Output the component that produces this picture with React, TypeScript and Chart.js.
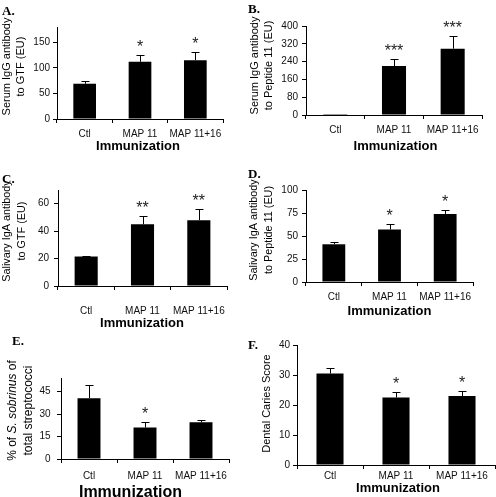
import React, { useEffect, useRef } from 'react';
import { Chart, registerables } from 'chart.js';
Chart.register(...registerables);

// ---------- data ----------
const categories = ['Ctl', 'MAP 11', 'MAP 11+16'];

const serumIgGGTF = [69, 112, 115];
const serumIgGGTFErr = [6, 13, 17];
const serumIgGGTFStars = ['', '*', '*'];
const serumIgGGTFTicks = [0, 50, 100, 150];
const serumIgGGTFMax = 180;

const serumIgGPep11 = [4, 220, 298];
const serumIgGPep11Err = [0, 30, 58];
const serumIgGPep11Stars = ['', '***', '***'];
const serumIgGPep11Ticks = [0, 80, 160, 240, 320, 400];
const serumIgGPep11Max = 400;

const salivaryIgAGTF = [21.5, 45, 48];
const salivaryIgAGTFErr = [0.5, 6, 8];
const salivaryIgAGTFStars = ['', '**', '**'];
const salivaryIgAGTFTicks = [0, 20, 40, 60];
const salivaryIgAGTFMax = 70;

const salivaryIgAPep11 = [41, 57, 74];
const salivaryIgAPep11Err = [2, 6, 4];
const salivaryIgAPep11Stars = ['', '*', '*'];
const salivaryIgAPep11Ticks = [0, 25, 50, 75, 100];
const salivaryIgAPep11Max = 100;

const sobrinusPct = [40.5, 21, 24.5];
const sobrinusPctErr = [9, 4, 1.5];
const sobrinusPctStars = ['', '*', ''];
const sobrinusPctTicks = [0, 15, 30, 45];
const sobrinusPctMax = 54;

const cariesScore = [30.5, 22.5, 23];
const cariesScoreErr = [2, 1.8, 1.7];
const cariesScoreStars = ['', '*', '*'];
const cariesScoreTicks = [0, 10, 20, 30, 40];
const cariesScoreMax = 40;

const xTitle = 'Immunization';

// ---------- layout ----------
type Run = { t: string; it?: boolean };
type Panel = {
  letter: string;
  values: number[];
  errors: number[];
  stars: string[];
  ticks: number[];
  max: number;
  yTitle: Run[][];
  left: number; top: number; w: number; h: number;
  area: { l: number; t: number; r: number; b: number };
  yTitleX: number[]; yTitleCy: number; yTitleSize: number;
  xTitleCx: number; xTitleCy: number; xTitleSize: number;
  letterX: number; letterY: number;
  yPad: number; xPad: number;
};

const panels: Panel[] = [
  {
    letter: 'A.', values: serumIgGGTF, errors: serumIgGGTFErr, stars: serumIgGGTFStars,
    ticks: serumIgGGTFTicks, max: serumIgGGTFMax,
    yTitle: [[{ t: 'Serum IgG antibody' }], [{ t: 'to GTF (EU)' }]],
    left: 0, top: 0, w: 248, h: 165, area: { l: 57, t: 27, r: 223, b: 119 },
    yTitleX: [9.5, 23.5], yTitleCy: 66.5, yTitleSize: 11,
    xTitleCx: 138, xTitleCy: 146, xTitleSize: 13, letterX: 2, letterY: 15, yPad: 3, xPad: 5,
  },
  {
    letter: 'B.', values: serumIgGPep11, errors: serumIgGPep11Err, stars: serumIgGPep11Stars,
    ticks: serumIgGPep11Ticks, max: serumIgGPep11Max,
    yTitle: [[{ t: 'Serum IgG antibody' }], [{ t: 'to Peptide 11 (EU)' }]],
    left: 248, top: 0, w: 248, h: 165, area: { l: 58, t: 26, r: 234, b: 115 },
    yTitleX: [9.5, 23.5], yTitleCy: 65.5, yTitleSize: 11,
    xTitleCx: 147.5, xTitleCy: 146.5, xTitleSize: 13, letterX: 0, letterY: 13, yPad: 4, xPad: 5,
  },
  {
    letter: 'C.', values: salivaryIgAGTF, errors: salivaryIgAGTFErr, stars: salivaryIgAGTFStars,
    ticks: salivaryIgAGTFTicks, max: salivaryIgAGTFMax,
    yTitle: [[{ t: 'Salivary IgA antibody' }], [{ t: 'to GTF (EU)' }]],
    left: 0, top: 165, w: 248, h: 165, area: { l: 58, t: 25, r: 227, b: 121 },
    yTitleX: [10, 25], yTitleCy: 66, yTitleSize: 10.8,
    xTitleCx: 142, xTitleCy: 158, xTitleSize: 13, letterX: 2, letterY: 18, yPad: 5, xPad: 15,
  },
  {
    letter: 'D.', values: salivaryIgAPep11, errors: salivaryIgAPep11Err, stars: salivaryIgAPep11Stars,
    ticks: salivaryIgAPep11Ticks, max: salivaryIgAPep11Max,
    yTitle: [[{ t: 'Salivary IgA antibody' }], [{ t: 'to Peptide 11 (EU)' }]],
    left: 248, top: 165, w: 248, h: 165, area: { l: 58, t: 25, r: 225, b: 117 },
    yTitleX: [9, 23.5], yTitleCy: 65, yTitleSize: 10.8,
    xTitleCx: 141.5, xTitleCy: 146.5, xTitleSize: 13, letterX: 0, letterY: 13, yPad: 4, xPad: 5,
  },
  {
    letter: 'E.', values: sobrinusPct, errors: sobrinusPctErr, stars: sobrinusPctStars,
    ticks: sobrinusPctTicks, max: sobrinusPctMax,
    yTitle: [[{ t: '% of ' }, { t: 'S. sobrinus', it: true }, { t: ' of' }], [{ t: 'total streptococci' }]],
    left: 0, top: 330, w: 248, h: 167, area: { l: 61, t: 48, r: 229, b: 129 },
    yTitleX: [15.5, 31.5], yTitleCy: 80.5, yTitleSize: 12,
    xTitleCx: 130.5, xTitleCy: 163, xTitleSize: 16, letterX: 12, letterY: 15, yPad: 6.5, xPad: 7,
  },
  {
    letter: 'F.', values: cariesScore, errors: cariesScoreErr, stars: cariesScoreStars,
    ticks: cariesScoreTicks, max: cariesScoreMax,
    yTitle: [[{ t: 'Dental Caries Score' }]],
    left: 248, top: 330, w: 248, h: 167, area: { l: 49, t: 15, r: 247, b: 135 },
    yTitleX: [21.5], yTitleCy: 73.5, yTitleSize: 11,
    xTitleCx: 150, xTitleCy: 158, xTitleSize: 13, letterX: 0, letterY: 19, yPad: 3, xPad: 1,
  },
];

const SANS = '"Liberation Sans", Arial, Helvetica, sans-serif';
const SERIF = '"Liberation Serif", "Times New Roman", serif';

function decoPlugin(p: Panel) {
  return {
    id: 'deco',
    afterDatasetsDraw(chart: any) {
      const ctx = chart.ctx;
      const y = chart.scales.y;
      const meta = chart.getDatasetMeta(0);
      ctx.save();
      ctx.strokeStyle = '#000';
      ctx.lineWidth = 1;
      p.values.forEach((v, i) => {
        const bar = meta.data[i];
        const cx = Math.round(bar.x) + 0.5;
        const yTop = y.getPixelForValue(v);
        const yErr = Math.round(y.getPixelForValue(v + p.errors[i])) + 0.5;
        if (p.errors[i] > 0) {
          ctx.beginPath();
          ctx.moveTo(cx, yTop);
          ctx.lineTo(cx, yErr);
          ctx.moveTo(cx - 4, yErr);
          ctx.lineTo(cx + 4, yErr);
          ctx.stroke();
        }
        if (p.stars[i]) {
          ctx.font = `16px ${SANS}`;
          ctx.fillStyle = '#222';
          ctx.textAlign = 'center';
          ctx.textBaseline = 'alphabetic';
          ctx.fillText(p.stars[i], bar.x, yErr - 3.5);
        }
      });
      ctx.restore();
    },
    afterDraw(chart: any) {
      const ctx = chart.ctx;
      ctx.save();
      ctx.fillStyle = '#000';
      ctx.font = `bold 13px ${SERIF}`;
      ctx.textAlign = 'left';
      ctx.textBaseline = 'alphabetic';
      ctx.fillText(p.letter, p.letterX, p.letterY);
      ctx.font = `bold ${p.xTitleSize}px ${SANS}`;
      ctx.textAlign = 'center';
      ctx.textBaseline = 'middle';
      ctx.fillText(xTitle, p.xTitleCx, p.xTitleCy);
      p.yTitle.forEach((line, li) => {
        const fontOf = (r: Run) => `${r.it ? 'italic ' : ''}${p.yTitleSize}px ${SANS}`;
        let total = 0;
        line.forEach((r) => { ctx.font = fontOf(r); total += ctx.measureText(r.t).width; });
        ctx.save();
        ctx.translate(p.yTitleX[li], p.yTitleCy);
        ctx.rotate(-Math.PI / 2);
        ctx.textAlign = 'left';
        ctx.textBaseline = 'alphabetic';
        let x = -total / 2;
        line.forEach((r) => {
          ctx.font = fontOf(r);
          ctx.fillText(r.t, x, 0);
          x += ctx.measureText(r.t).width;
        });
        ctx.restore();
      });
      ctx.restore();
    },
  };
}

function PanelChart({ p }: { p: Panel }) {
  const ref = useRef<HTMLCanvasElement | null>(null);
  useEffect(() => {
    if (!ref.current) return;
    const chart = new Chart(ref.current, {
      type: 'bar',
      data: {
        labels: categories,
        datasets: [{
          data: p.values,
          backgroundColor: '#000',
          borderWidth: 0,
          barPercentage: 0.41,
          categoryPercentage: 1,
        }],
      },
      options: {
        animation: false,
        responsive: false,
        maintainAspectRatio: false,
        devicePixelRatio: 1,
        events: [],
        layout: { padding: { left: 0, top: p.area.t, right: p.w - p.area.r, bottom: 0 } },
        plugins: { legend: { display: false }, tooltip: { enabled: false }, title: { display: false } },
        scales: {
          x: {
            grid: { display: true, drawOnChartArea: false, drawTicks: true, tickLength: 4, color: '#000', offset: true },
            border: { display: true, color: '#000', width: 1 },
            ticks: { color: '#111', font: { family: SANS, size: 10 }, padding: p.xPad, maxRotation: 0, autoSkip: false },
            afterFit: (s: any) => { s.height = p.h - p.area.b; },
          },
          y: {
            min: 0,
            max: p.max,
            grid: { display: true, drawOnChartArea: false, drawTicks: true, tickLength: 4, color: '#000' },
            border: { display: true, color: '#000', width: 1 },
            ticks: { color: '#111', font: { family: SANS, size: 10 }, padding: p.yPad },
            afterBuildTicks: (s: any) => { s.ticks = p.ticks.map((v) => ({ value: v })); },
            afterFit: (s: any) => { s.width = p.area.l; },
          },
        },
      },
      plugins: [decoPlugin(p)],
    } as any);
    return () => chart.destroy();
  }, [p]);
  return (
    <canvas
      ref={ref}
      width={p.w}
      height={p.h}
      style={{ position: 'absolute', left: p.left, top: p.top, width: p.w, height: p.h }}
    />
  );
}

export default function App() {
  return (
    <div style={{ position: 'absolute', left: 0, top: 0, width: 496, height: 497, background: '#fff', overflow: 'hidden' }}>
      {panels.map((p) => <PanelChart key={p.letter} p={p} />)}
    </div>
  );
}
